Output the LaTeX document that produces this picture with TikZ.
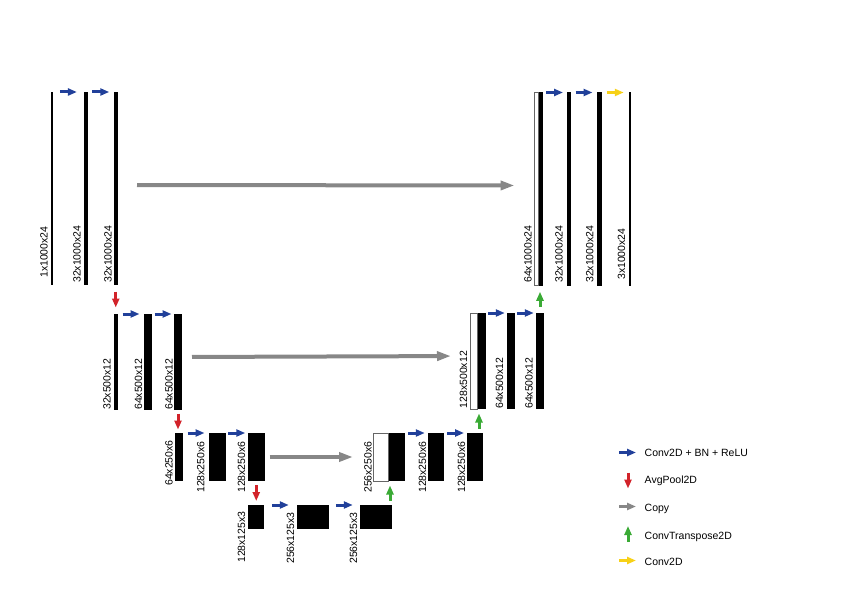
\documentclass[tikz,border=0pt]{standalone}
\usepackage{fontspec}
\setmainfont{Liberation Sans}
\usetikzlibrary{arrows.meta}
\usetikzlibrary{calc}
\usetikzlibrary{scopes}

\definecolor{convblue}{HTML}{21409A}
\definecolor{poolred}{HTML}{D2232A}
\definecolor{copygray}{HTML}{878787}
\definecolor{upgreen}{HTML}{3AAA35}
\definecolor{lastyellow}{HTML}{F7D117}

\tikzset{
    fm/.style={rectangle,fill=black,inner sep=0pt,outer sep=0pt,anchor=north west,minimum width=#1},
    fmcat/.style={fm=#1,fill=white,draw=black!60,line width=0.5bp},
    rowa/.style={minimum height=193bp},
    rowb/.style={minimum height=96bp},
    rowc/.style={minimum height=48bp},
    rowd/.style={minimum height=24bp},
    lbl/.style={rotate=90,anchor=base west,inner sep=0pt,font=\fontsize{10.5bp}{12bp}\selectfont},
    key/.style={anchor=base west,inner sep=0pt,font=\fontsize{10.5bp}{12bp}\selectfont},
    conv/.style={draw=convblue,line width=3bp,-{Triangle[length=9bp,width=7bp]}},
    final/.style={conv,draw=lastyellow},
    pool/.style={draw=poolred,line width=3bp,-{Triangle[length=9bp,width=7bp]}},
    upc/.style={draw=upgreen,line width=3bp,-{Triangle[length=9bp,width=7bp]}},
    copy/.style={draw=copygray,line width=4bp,-{Triangle[length=14bp,width=9bp]}}
}

\newcommand{\convarrow}[3][conv]{%
    \path ($(#2.north east)!.5!(#3.north west)$) coordinate (m);
    \draw[#1] ([xshift=-8.5bp]m) -- ([xshift=8.5bp]m);}
\newcommand{\poolarrow}[2]{%
    \path ($(#1.south)!.5!(#1.south |- #2.north)$) coordinate (m);
    \draw[pool] ([yshift=8bp]m) -- ([yshift=-8bp]m);}
\newcommand{\upconv}[2]{%
    \path ([xshift=1.5bp]#2.south west) coordinate (n);
    \path ($(n)!.5!(n |- #1.north)$) coordinate (m);
    \draw[upc] ([yshift=-7.5bp]m) -- ([yshift=7.5bp]m);}

\begin{document}
\begin{tikzpicture}[x=1bp,y=-1bp]
    \useasboundingbox (0,0) rectangle (843,596);

    { [] % 1000x24
        \node[fm=2.5bp,rowa] (in1) at (50.8,92) {};
        \node[fm=4.5bp,rowa] (e1a) at (83.5,92) {};
        \node[fm=4.5bp,rowa] (e1b) at (113.5,92) {};
        \node[fmcat=4bp,rowa] (d1w) at (534.5,92.5) {};
        \node[fm=4bp,rowa] (d1b) at (d1w.north east) {};
        \node[fm=4.5bp,rowa] (d1c) at (566.5,92.5) {};
        \node[fm=4.5bp,rowa] (d1d) at (597,92.5) {};
        \node[fm=2bp,rowa] (out) at (629,92.5) {};

        \node[lbl] (t1a) at (47.5,278) {1x1000x24};
        \node[lbl] (t1b) at (80.7,283) {32x1000x24};
        \node[lbl] (t1c) at (111.5,283) {32x1000x24};
        \node[lbl] (t1d) at (531.5,283) {64x1000x24};
        \node[lbl] (t1e) at (562.7,283) {32x1000x24};
        \node[lbl] (t1f) at (593.3,283) {32x1000x24};
        \node[lbl] (t1g) at (625,280) {3x1000x24};
    }

    { [] % 500x12
        \node[fm=4bp,rowb] (e2a) at (114,314) {};
        \node[fm=8bp,rowb] (e2b) at (144,314) {};
        \node[fm=8bp,rowb] (e2c) at (174,314) {};
        \node[fmcat=7.5bp,rowb] (d2w) at (470,313) {};
        \node[fm=8bp,rowb] (d2b) at (d2w.north east) {};
        \node[fm=7.5bp,rowb] (d2c) at (507,313) {};
        \node[fm=7.5bp,rowb] (d2d) at (536,313) {};

        \node[lbl] (t2a) at (110.7,410) {32x500x12};
        \node[lbl] (t2b) at (142,410) {64x500x12};
        \node[lbl] (t2c) at (172.7,410) {64x500x12};
        \node[lbl] (t2d) at (467,408.5) {128x500x12};
        \node[lbl] (t2e) at (503,409) {64x500x12};
        \node[lbl] (t2f) at (532.7,409) {64x500x12};
    }

    { [] % 250x6
        \node[fm=8bp,rowc] (e3a) at (175,433) {};
        \node[fm=16.5bp,rowc] (e3b) at (209,433) {};
        \node[fm=16.5bp,rowc] (e3c) at (248,433) {};
        \node[fmcat=15.5bp,rowc] (d3w) at (373,433) {};
        \node[fm=16bp,rowc] (d3b) at (d3w.north east) {};
        \node[fm=16bp,rowc] (d3c) at (428,433) {};
        \node[fm=16bp,rowc] (d3d) at (467,433) {};

        \node[lbl] (t3a) at (172.7,486) {64x250x6};
        \node[lbl] (t3b) at (204.3,493) {128x250x6};
        \node[lbl] (t3c) at (245,493) {128x250x6};
        \node[lbl] (t3d) at (371.5,493) {256x250x6};
        \node[lbl] (t3e) at (426,493) {128x250x6};
        \node[lbl] (t3f) at (465,493) {128x250x6};
    }

    { [] % 125x3
        \node[fm=16bp,rowd] (e4a) at (248,505) {};
        \node[fm=32bp,rowd] (e4b) at (296.5,505) {};
        \node[fm=32bp,rowd] (e4c) at (360,505) {};

        \node[lbl] (t4a) at (245,563) {128x125x3};
        \node[lbl] (t4b) at (294,564) {256x125x3};
        \node[lbl] (t4c) at (357,564) {256x125x3};
    }

    \convarrow{in1}{e1a}
    \convarrow{e1a}{e1b}
    \convarrow{d1b}{d1c}
    \convarrow{d1c}{d1d}
    \convarrow[final]{d1d}{out}
    \convarrow{e2a}{e2b}
    \convarrow{e2b}{e2c}
    \convarrow{d2b}{d2c}
    \convarrow{d2c}{d2d}
    \convarrow{e3a}{e3b}
    \convarrow{e3b}{e3c}
    \convarrow{d3b}{d3c}
    \convarrow{d3c}{d3d}
    \convarrow{e4a}{e4b}
    \convarrow{e4b}{e4c}

    \poolarrow{e1b}{e2a}
    \poolarrow{e2c}{e3a}
    \poolarrow{e3c}{e4a}

    \upconv{e4c}{d3b}
    \upconv{d3d}{d2b}
    \upconv{d2d}{d1b}

    \draw[copy,shorten <=19bp,shorten >=20bp] ([yshift=3.5bp]e1b.east) -- ([yshift=3.5bp]d1w.west);
    \draw[copy,shorten <=10bp,shorten >=19bp] ([yshift=5bp]e2c.east) -- ([yshift=5bp]d2w.west);
    \draw[copy,shorten <=5bp,shorten >=20bp] (e3c.east) -- (d3w.west);

    { [] % legend
        \coordinate (k1) at (619,452.5);
        \coordinate (k2) at (628,472.5);
        \coordinate (k3) at (619,506.5);
        \coordinate (k4) at (628,542);
        \coordinate (k5) at (619,560.5);
        \draw[conv] (k1) -- ([xshift=17bp]k1);
        \draw[pool] (k2) -- ([yshift=-16bp]k2);
        \draw[copy,line width=3bp,-{Triangle[length=9bp,width=7bp]}] (k3) -- ([xshift=17bp]k3);
        \draw[upc] (k4) -- ([yshift=16bp]k4);
        \draw[final] (k5) -- ([xshift=17bp]k5);
        \node[key] (k1t) at (644.5,456.7) {Conv2D + BN + ReLU};
        \node[key] (k2t) at (644.5,483.5) {AvgPool2D};
        \node[key] (k3t) at (644.5,511) {Copy};
        \node[key] (k4t) at (644.5,539.3) {ConvTranspose2D};
        \node[key] (k5t) at (644.5,565) {Conv2D};
    }
\end{tikzpicture}
\end{document}
